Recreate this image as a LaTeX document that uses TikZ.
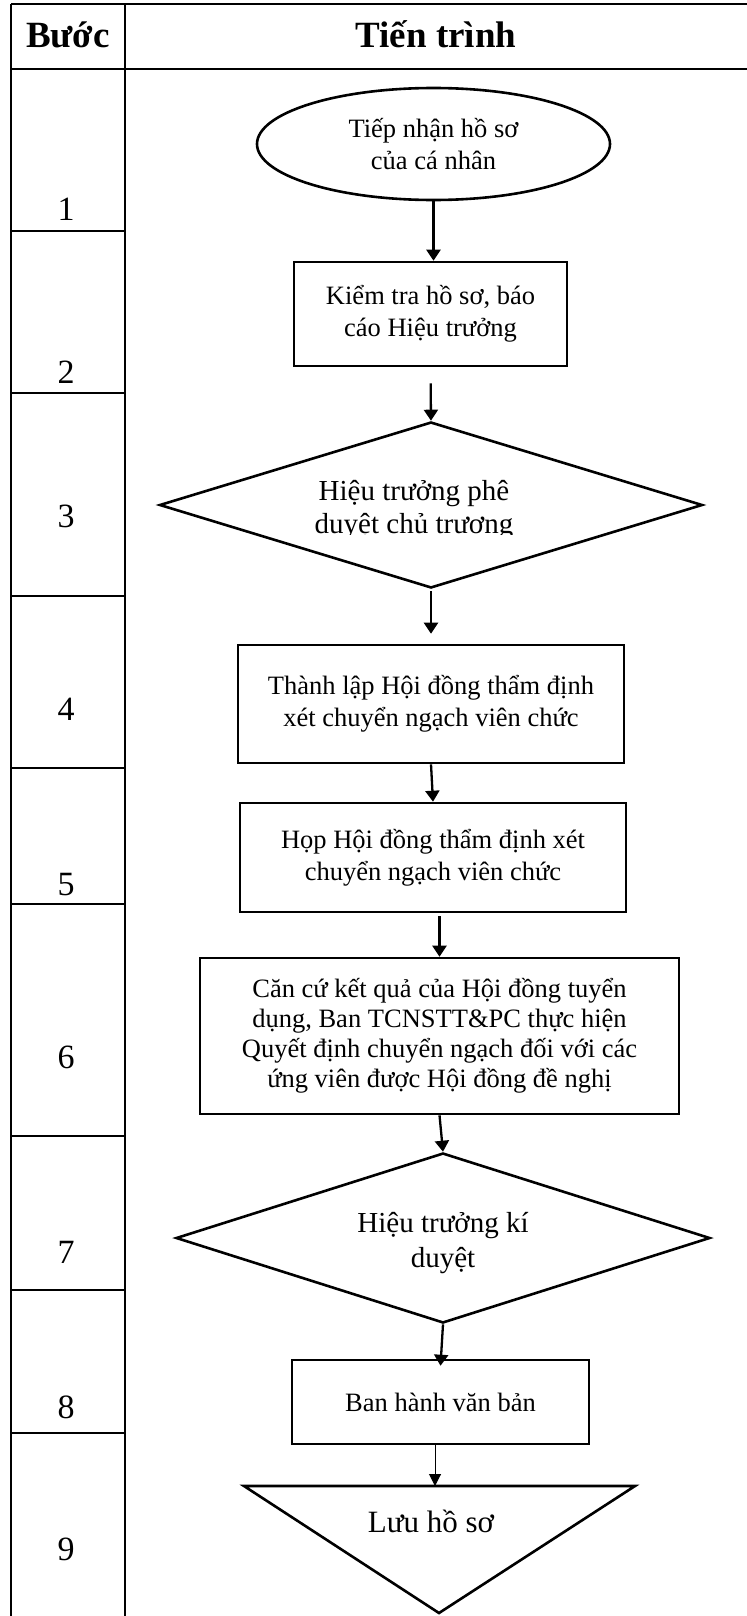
\documentclass[tikz,border=0pt]{standalone}
\usepackage{fontspec}
\setmainfont{Liberation Serif}
\usepackage{tikz}
\usetikzlibrary{arrows.meta,shapes.geometric}

\begin{document}
\begin{tikzpicture}[x=0.5pt,y=-0.5pt,
    tbl/.style={line width=1pt,draw=black},
    num/.style={anchor=base,font=\fontsize{17}{20}\selectfont},
    head/.style={anchor=base,font=\fontsize{18.5}{22}\selectfont\bfseries},
    term/.style={ellipse,draw,line width=1.3pt,align=center,inner sep=0pt,font=\fontsize{13.25}{16}\selectfont,minimum width=176.5pt,minimum height=56pt},
    proc/.style={rectangle,draw,line width=1.3pt,align=center,inner sep=0pt,font=\fontsize{13.25}{15.85}\selectfont},
    dec/.style={diamond,draw,line width=1.3pt,inner sep=0pt,aspect=3.2},
    dectext/.style={anchor=base,align=center,inner sep=0pt},
    arr/.style={-{Triangle[length=5.5pt,width=7pt]},line width=1.15pt},
    thinarr/.style={-{Triangle[length=6pt,width=6pt]},line width=0.5pt}]
   \useasboundingbox (0,0) rectangle (747,1616);
   \draw[tbl] (11,4) -- (747,4);
   \draw[tbl] (11,69) -- (747,69);
   \draw[tbl] (11,4) -- (11,1616);
   \draw[tbl] (125,4) -- (125,1616);
   \draw[tbl] (11,231) -- (125,231);
   \draw[tbl] (11,393) -- (125,393);
   \draw[tbl] (11,596) -- (125,596);
   \draw[tbl] (11,768) -- (125,768);
   \draw[tbl] (11,904) -- (125,904);
   \draw[tbl] (11,1136) -- (125,1136);
   \draw[tbl] (11,1290) -- (125,1290);
   \draw[tbl] (11,1433) -- (125,1433);
   \node[head] (hstep) at (68,48) {Bước};
   \node[head] (hproc) at (436,48) {Tiến trình};
   \node[num] (n1) at (66,220) {1};
   \node[num] (n2) at (66,383) {2};
   \node[num] (n3) at (66,527) {3};
   \node[num] (n4) at (66,720) {4};
   \node[num] (n5) at (66,895) {5};
   \node[num] (n6) at (66,1068) {6};
   \node[num] (n7) at (66,1263) {7};
   \node[num] (n8) at (66,1418) {8};
   \node[num] (n9) at (66,1560) {9};
   \node[term] (e1) at (433.5,144) {Tiếp nhận hồ sơ\\của cá nhân};
   \node[proc,minimum width=136.5pt,minimum height=52pt] (b2) at (430.5,314) {Kiểm tra hồ sơ, báo\\cáo Hiệu trưởng};
   \node[dec,minimum width=271.5pt,minimum height=83pt] (d3) at (431,505) {};
   \begin{scope}
    \clip (160,420) rectangle (703,534);
    \node[dectext,font=\fontsize{14.5}{16.5}\selectfont] (d3txt) at (414,533) {Hiệu trưởng phê\\duyệt chủ trương};
   \end{scope}
   \node[proc,minimum width=193pt,minimum height=59pt] (b4) at (431,704) {Thành lập Hội đồng thẩm định\\xét chuyển ngạch viên chức};
   \node[proc,minimum width=193pt,minimum height=54.5pt] (b5) at (433,857.5) {Họp Hội đồng thẩm định xét\\chuyển ngạch viên chức};
   \node[proc,minimum width=239.5pt,minimum height=78pt,font=\fontsize{13.25}{15}\selectfont] (b6) at (439.5,1036) {Căn cứ kết quả của Hội đồng tuyển\\dụng, Ban TCNSTT\&PC thực hiện\\Quyết định chuyển ngạch đối với các\\ứng viên được Hội đồng đề nghị};
   \node[dec,minimum width=267pt,minimum height=85pt] (d7) at (443,1238) {};
   \node[dectext,font=\fontsize{14.5}{17.5}\selectfont] (d7txt) at (443,1267) {Hiệu trưởng kí\\duyệt};
   \node[proc,minimum width=148.5pt,minimum height=42pt] (b8) at (440.5,1402) {Ban hành văn bản};
   \draw[line width=1.3pt] (244,1486) -- (635,1486) -- (439,1613) -- cycle;
   \coordinate (t9top) at (435,1486);
   \node[anchor=base,font=\fontsize{15.5}{18}\selectfont] (t9) at (431,1532) {Lưu hồ sơ};
   \draw[arr] (e1.south) -- (e1.south |- b2.north);
   \draw[arr,shorten <=8pt] (b2.south) -- (d3.north);
   \draw[arr,shorten <=1pt,shorten >=5pt] (d3.south) -- (b4.north);
   \draw[arr] (b4.south) -- (b5.north);
   \draw[arr,shorten <=1.5pt] (b6.north |- b5.south) -- (b6.north);
   \draw[arr] (b6.south) -- (d7.north);
   \draw[arr] (d7.south) -- ([yshift=-3.5pt]b8.north);
   \draw[thinarr] (t9top |- b8.south) -- (t9top);
  \end{tikzpicture}
\end{document}
